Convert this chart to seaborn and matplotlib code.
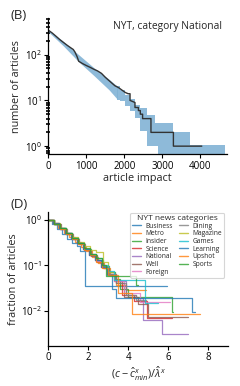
import numpy as np
import pandas as pd
import matplotlib
matplotlib.use('Agg')
import matplotlib.pyplot as plt
import seaborn as sns
from matplotlib.ticker import LogLocator, NullFormatter

# ---- panel (B): NYT, category National (counts, drops drawn as repeated x)
impact = [0, 100, 200, 300, 400, 500, 600, 658, 700, 760, 800, 900, 1000, 1100, 1200,
          1300, 1400, 1500, 1600, 1670, 1750, 1850, 1930, 2020, 2100, 2150, 2150,
          2280, 2280, 2370, 2370, 2420, 2420, 2480, 2480, 2700, 2700, 3290, 3290, 4036]
n_articles = [345, 300, 255, 215, 185, 160, 140, 130, 115, 90, 72, 64, 58, 53, 48,
              44, 39, 32, 27, 24, 21, 19, 17, 15, 14, 14, 10,
              9, 7, 7, 6, 6, 5, 5, 4, 4, 2, 2, 1, 1]

# confidence band: smooth head, stepped tail
band_head_x = [0, 400, 800, 1200, 1600, 1800]
band_head_lo = [318, 155, 70, 35, 17, 11]
band_head_hi = [352, 195, 100, 52, 29, 21]
band_tail_x = [1800, 1890, 2020, 2150, 2280, 2413, 2588, 2808, 2895, 3290, 3729, 4650]
band_tail_lo = [10.4, 9.5, 7.4, 5.8, 4.1, 2.1, 1.0, 1.0, 0.3, 0.3, 0.3, 0.3]
band_tail_hi = [21, 17, 13, 11, 8, 7, 4.9, 3.2, 3.2, 2.0, 1.05, 1.05]

# ---- panel (D): rescaled impact per category (complementary cumulative fraction)
categories = ['Business', 'Metro', 'Insider', 'Science', 'National', 'Well', 'Foreign',
              'Dining', 'Magazine', 'Games', 'Learning', 'Upshot', 'Sports']

business_x = [0, 0.2, 0.45, 0.7, 0.95, 1.2, 1.45, 1.6, 1.84, 5.92]
business_y = [1, 0.8, 0.62, 0.48, 0.37, 0.3, 0.26, 0.2, 0.035, 0.035]
metro_x = [0, 0.25, 0.5, 0.8, 1.05, 1.35, 1.65, 1.9, 2.2, 2.5, 2.8, 3.1, 3.4, 3.9, 4.9]
metro_y = [1, 0.83, 0.66, 0.52, 0.41, 0.32, 0.25, 0.2, 0.15, 0.11, 0.085, 0.06, 0.036, 0.029, 0.029]
insider_x = [0, 0.3, 0.6, 0.9, 1.2, 1.5, 1.8, 2.15, 2.45, 2.75, 3.05, 3.35, 3.6, 4.0, 6.17, 6.25]
insider_y = [1, 0.8, 0.64, 0.49, 0.39, 0.3, 0.23, 0.17, 0.13, 0.095, 0.07, 0.05, 0.03, 0.02, 0.0095, 0.0095]
science_x = [0, 0.25, 0.55, 0.85, 1.15, 1.45, 1.75, 2.05, 2.35, 2.65, 2.95, 3.3, 3.7, 4.3, 4.92, 6.17]
science_y = [1, 0.82, 0.64, 0.5, 0.39, 0.3, 0.23, 0.17, 0.13, 0.09, 0.065, 0.045, 0.022, 0.016, 0.0068, 0.0068]
national_x = [0, 0.3, 0.6, 0.9, 1.2, 1.5, 1.8, 2.1, 2.4, 2.7, 3.0, 3.4, 3.9, 4.4, 4.75, 5.67, 7.0]
national_y = [1, 0.8, 0.62, 0.49, 0.38, 0.29, 0.22, 0.165, 0.125, 0.09, 0.065, 0.045, 0.022, 0.019, 0.0063, 0.0031, 0.0031]
well_x = [0, 0.3, 0.65, 0.95, 1.25, 1.55, 1.85, 2.15, 2.45, 2.75, 3.05, 3.4, 3.8, 4.5, 5.0, 7.0]
well_y = [1, 0.79, 0.62, 0.48, 0.37, 0.29, 0.22, 0.16, 0.12, 0.085, 0.06, 0.04, 0.02, 0.014, 0.0072, 0.0072]
foreign_x = [0, 0.3, 0.6, 0.9, 1.2, 1.5, 1.8, 2.1, 2.4, 2.7, 3.0, 3.3, 3.8, 4.58, 6.08]
foreign_y = [1, 0.81, 0.63, 0.5, 0.39, 0.3, 0.23, 0.17, 0.125, 0.09, 0.063, 0.045, 0.025, 0.0158, 0.0158]
dining_x = [0, 0.3, 0.6, 0.9, 1.2, 1.5, 1.8, 2.1, 2.4, 2.7, 3.0, 3.4, 3.9, 4.4, 4.9]
dining_y = [1, 0.8, 0.63, 0.5, 0.39, 0.3, 0.23, 0.18, 0.13, 0.095, 0.065, 0.04, 0.022, 0.017, 0.017]
magazine_x = [0, 0.3, 0.6, 0.9, 1.2, 1.5, 1.8, 2.1, 2.4, 2.75, 3.0, 3.3]
magazine_y = [1, 0.82, 0.66, 0.52, 0.41, 0.32, 0.26, 0.21, 0.19, 0.12, 0.07, 0.07]
games_x = [0, 0.3, 0.6, 0.9, 1.2, 1.5, 1.8, 2.1, 2.4, 2.7, 3.0, 3.3, 4.83, 5.5]
games_y = [1, 0.8, 0.64, 0.5, 0.39, 0.3, 0.23, 0.18, 0.14, 0.1, 0.075, 0.047, 0.015, 0.015]
learning_x = [0, 0.25, 0.55, 0.85, 1.15, 1.45, 1.75, 2.05, 2.35, 2.65, 2.95, 3.2, 3.4, 7.17, 7.33]
learning_y = [1, 0.82, 0.65, 0.5, 0.38, 0.3, 0.23, 0.17, 0.13, 0.09, 0.06, 0.03, 0.0187, 0.0092, 0.0092]
upshot_x = [0, 0.3, 0.6, 0.9, 1.2, 1.5, 1.8, 2.1, 2.4, 2.7, 3.0, 3.5, 4.17, 7.58]
upshot_y = [1, 0.79, 0.62, 0.48, 0.37, 0.29, 0.22, 0.165, 0.12, 0.085, 0.06, 0.024, 0.0085, 0.0085]
sports_x = [0, 0.3, 0.6, 0.9, 1.2, 1.5, 1.8, 2.1, 2.4, 2.7, 2.9, 4.4, 4.5]
sports_y = [1, 0.81, 0.64, 0.5, 0.4, 0.31, 0.24, 0.18, 0.14, 0.1, 0.059, 0.037, 0.037]

curves_x = [business_x, metro_x, insider_x, science_x, national_x, well_x, foreign_x,
            dining_x, magazine_x, games_x, learning_x, upshot_x, sports_x]
curves_y = [business_y, metro_y, insider_y, science_y, national_y, well_y, foreign_y,
            dining_y, magazine_y, games_y, learning_y, upshot_y, sports_y]

rows = []
for cat, xs, ys in zip(categories, curves_x, curves_y):
    for x, y in zip(xs, ys):
        rows.append({'cat': cat, 'x': x, 'y': y})
df = pd.DataFrame(rows)

sns.set_theme(style='ticks')
plt.rcParams['font.family'] = ['Open Sans', 'DejaVu Sans']
plt.rcParams['mathtext.fontset'] = 'custom'
plt.rcParams['mathtext.rm'] = 'Open Sans'
plt.rcParams['mathtext.it'] = 'Open Sans:italic'
plt.rcParams['axes.edgecolor'] = 'black'
plt.rcParams['xtick.color'] = 'black'
plt.rcParams['ytick.color'] = 'black'

fig = plt.figure(figsize=(2.4, 3.86), dpi=100)
ax1 = fig.add_axes([0.201, 0.6, 0.745, 0.353])
ax2 = fig.add_axes([0.201, 0.104, 0.75, 0.348])

# --- top panel
band_color = 'tab:blue'
ax1.fill_between(band_head_x, band_head_lo, band_head_hi, color=band_color, alpha=0.5, lw=0)
ax1.fill_between(band_tail_x, band_tail_lo, band_tail_hi, step='post',
                 color=band_color, alpha=0.5, lw=0)
sns.lineplot(x=impact, y=n_articles, estimator=None, sort=False,
             color='#333333', lw=1, ax=ax1)
ax1.set_yscale('log')
ax1.set_xlim(0, 4700)
ax1.set_ylim(0.66, 630)
ax1.set_xticks([0, 1000, 2000, 3000, 4000])
ax1.yaxis.set_minor_locator(LogLocator(base=10, subs=np.arange(2, 10)))
ax1.yaxis.set_minor_formatter(NullFormatter())
ax1.tick_params(which='minor', axis='y', length=2.5, width=1.2, direction='inout', left=True)
ax1.set_xlabel('article impact', fontsize=7.8, labelpad=1)
ax1.set_ylabel('number of articles', fontsize=7.8, labelpad=2)
ax1.text(0.972, 0.935, 'NYT, category National', transform=ax1.transAxes,
         ha='right', va='center', fontsize=7.4)

# --- bottom panel
palette = sns.color_palette('tab10', 13)
sns.lineplot(data=df, x='x', y='y', hue='cat', hue_order=categories, palette=palette,
             estimator=None, sort=False, drawstyle='steps-post', lw=0.9, alpha=0.8, ax=ax2)
ax2.set_yscale('log')
ax2.set_xlim(0, 9)
ax2.set_ylim(0.0017, 1.5)
ax2.set_xticks([0, 2, 4, 6, 8])
ax2.set_yticks([1, 0.1, 0.01])
ax2.yaxis.set_minor_formatter(NullFormatter())
ax2.tick_params(which='minor', length=0)
ax2.set_xlabel(r'$(c-\hat{c}^{x}_{min})/\hat{\lambda}^{x}$', fontsize=7.8, labelpad=1)
ax2.set_ylabel('fraction of articles', fontsize=7.8, labelpad=2)
leg = ax2.legend(title='NYT news categories', ncol=2, loc='upper right',
                 bbox_to_anchor=(0.995, 1.015), fontsize=4.8, title_fontsize=6,
                 handlelength=1.3, labelspacing=0.1, columnspacing=0.9,
                 handletextpad=0.7, borderpad=0.3, frameon=True, fancybox=True)
leg.get_frame().set_edgecolor('#cccccc')
leg.get_frame().set_linewidth(0.8)
for line in leg.get_lines():
    line.set_linewidth(1.0)

for ax in (ax1, ax2):
    sns.despine(ax=ax)
    ax.tick_params(which='major', labelsize=7, length=3, width=0.8, pad=1.5)
    for s in ('left', 'bottom'):
        ax.spines[s].set_linewidth(0.9)

fig.text(0.042, 0.961, '(B)', fontsize=9.5, va='center', ha='left')
fig.text(0.042, 0.4715, '(D)', fontsize=9.5, va='center', ha='left')

fig.savefig('out.png', dpi=100)
